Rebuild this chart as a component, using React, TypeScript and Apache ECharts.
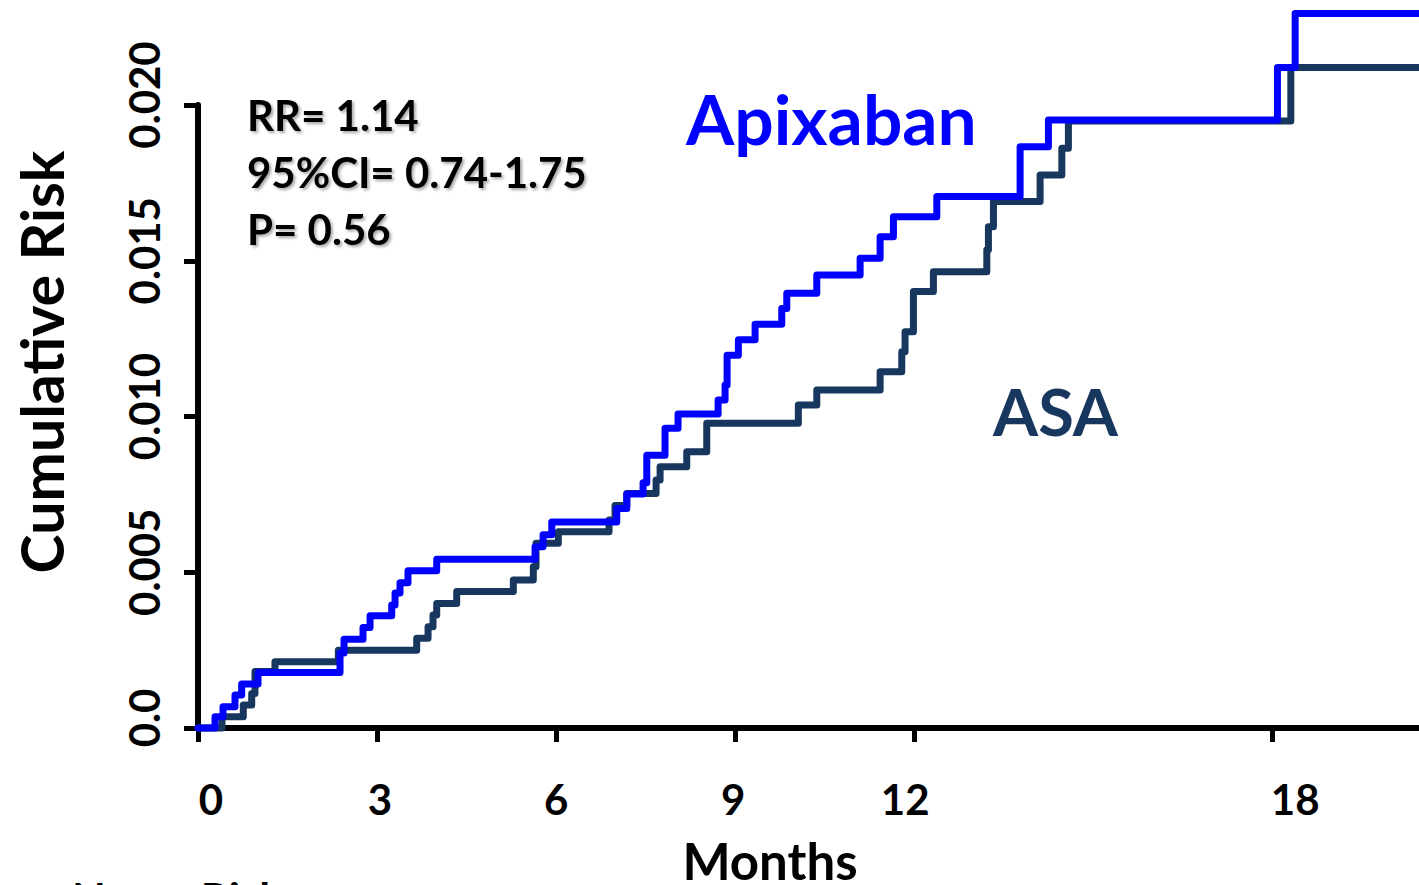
import React, { useEffect, useRef } from "react";
import * as echarts from "echarts";

// Tick values shown on the axes
const xTickValues = [0, 3, 6, 9, 12, 18];
const xMax = 20.46;
const yMax = 0.02;
const yInterval = 0.005;

// Kaplan-Meier style step data: months at which the cumulative risk jumps, and the new risk
const apixabanMonths = [
  0, 0.285, 0.419, 0.62, 0.732, 1.006, 2.38, 2.447, 2.765, 2.883, 3.246, 3.302, 3.385, 3.519, 4.0,
  5.648, 5.782, 5.928, 7.017, 7.185, 7.458, 7.52, 7.826, 8.044, 8.715, 8.832, 8.866, 9.055, 9.335,
  9.782, 9.866, 10.369, 11.095, 11.43, 11.653, 12.38, 13.776, 14.25, 18.088, 18.385, 20.46,
];
const apixabanRisk = [
  0, 0.00036, 0.00068, 0.00106, 0.00141, 0.00178, 0.00241, 0.00285, 0.00323, 0.0036, 0.00395,
  0.00433, 0.00466, 0.00505, 0.00542, 0.00582, 0.0062, 0.00661, 0.00705, 0.00751, 0.00787, 0.00876,
  0.00962, 0.01008, 0.01053, 0.01101, 0.01197, 0.01246, 0.01296, 0.01347, 0.01396, 0.01454, 0.01508,
  0.01577, 0.01641, 0.01706, 0.01866, 0.01952, 0.0212, 0.02294, 0.02294,
];

const asaMonths = [
  0, 0.402, 0.759, 0.9, 0.955, 1.29, 2.351, 3.665, 3.855, 3.938, 4.0, 4.335, 5.284, 5.619, 5.664,
  6.038, 6.888, 6.988, 7.185, 7.676, 7.743, 8.19, 8.525, 10.06, 10.369, 11.43, 11.793, 11.848, 11.988,
  12.323, 13.218, 13.245, 13.329, 14.111, 14.475, 14.585, 18.312, 20.46,
];
const asaRisk = [
  0, 0.00036, 0.00074, 0.00111, 0.00181, 0.00213, 0.0025, 0.00288, 0.00325, 0.00363, 0.004, 0.00438,
  0.00475, 0.00518, 0.00593, 0.0063, 0.00668, 0.00714, 0.00753, 0.00796, 0.00839, 0.00887, 0.00978,
  0.01037, 0.01085, 0.01144, 0.01208, 0.01272, 0.01401, 0.01465, 0.01535, 0.01609, 0.0169, 0.01775,
  0.01861, 0.01949, 0.0212, 0.0212,
];

const statsLines = ["RR= 1.14", "95%CI= 0.74-1.75", "P= 0.56"];

const BLUE = "#0000FF";
const NAVY = "#17375E";
const FONT = "Lato, 'Open Sans', sans-serif";

// small horizontal nudges of the x tick labels (style only), as in the original slide
const xLabelNudge: Record<number, number> = { 0: 13, 3: 3, 6: 0, 9: -2, 12: -9, 18: 23 };

export default function App() {
  const ref = useRef<HTMLDivElement>(null);

  useEffect(() => {
    document.body.style.margin = "0";
    const chart = echarts.init(ref.current!, null, { renderer: "svg" });

    const lineBase = {
      type: "line",
      step: "end",
      showSymbol: false,
      symbol: "none",
      clip: false,
      silent: true,
    };

    const xRich: Record<string, any> = {};
    xTickValues.forEach((v) => {
      const s = xLabelNudge[v] || 0;
      xRich["t" + v] = {
        color: "#000",
        fontWeight: "bold",
        fontSize: 42,
        fontFamily: FONT,
        padding: s >= 0 ? [0, 0, 0, 2 * s] : [0, -2 * s, 0, 0],
      };
    });

    chart.setOption({
      animation: false,
      backgroundColor: "#ffffff",
      grid: {
        left: 198,
        top: 105,
        right: 0,
        bottom: 157,
        containLabel: false,
        outerBoundsMode: "none",
      },
      xAxis: {
        type: "value",
        min: 0,
        max: xMax,
        interval: 3,
        splitLine: { show: false },
        axisLine: { show: true, onZero: false, lineStyle: { color: "#000", width: 6 } },
        axisTick: {
          show: true,
          length: 14,
          customValues: xTickValues,
          lineStyle: { color: "#000", width: 5 },
        },
        axisLabel: {
          customValues: xTickValues,
          color: "#000",
          fontWeight: "bold",
          fontSize: 42,
          fontFamily: FONT,
          margin: 50,
          formatter: (v: number) => `{t${v}|${v}}`,
          rich: xRich,
        },
      },
      yAxis: {
        type: "value",
        min: 0,
        max: yMax,
        interval: yInterval,
        splitLine: { show: false },
        axisLine: { show: true, onZero: false, lineStyle: { color: "#000", width: 6 } },
        axisTick: { show: true, length: 14, lineStyle: { color: "#000", width: 5 } },
        axisLabel: {
          rotate: 90,
          color: "#000",
          fontWeight: "bold",
          fontSize: 42,
          fontFamily: FONT,
          margin: 33,
          padding: [0, 0, 0, 20],
          formatter: (v: number) => (v === 0 ? "0.0" : v.toFixed(3)),
        },
      },
      series: [
        {
          ...lineBase,
          name: "ASA",
          data: asaMonths.map((m, i) => [m, asaRisk[i]]),
          lineStyle: { color: NAVY, width: 7, cap: "round", join: "round" },
          z: 2,
        },
        {
          ...lineBase,
          name: "Apixaban",
          data: apixabanMonths.map((m, i) => [m, apixabanRisk[i]]),
          lineStyle: { color: BLUE, width: 7, cap: "round", join: "round" },
          z: 3,
        },
      ],
      graphic: [
        {
          type: "text",
          x: 41,
          y: 362,
          rotation: Math.PI / 2,
          style: {
            text: "Cumulative Risk",
            fontSize: 59,
            fontWeight: "bold",
            fontFamily: FONT,
            fill: "#000",
            align: "center",
            verticalAlign: "middle",
          },
        },
        {
          type: "text",
          x: 770,
          y: 860,
          style: {
            text: "Months",
            fontSize: 51,
            fontWeight: "bold",
            fontFamily: FONT,
            fill: "#000",
            align: "center",
            verticalAlign: "middle",
          },
        },
        ...statsLines.map((t, i) => ({
          type: "text",
          x: 247,
          y: 115 + i * 57,
          style: {
            text: t,
            fontSize: 42,
            fontWeight: "bold",
            fontFamily: FONT,
            fill: "#000",
            align: "left",
            verticalAlign: "middle",
            textShadowColor: "rgba(0,0,0,0.35)",
            textShadowBlur: 3,
            textShadowOffsetX: 2,
            textShadowOffsetY: 2,
          },
        })),
        {
          type: "text",
          x: 686,
          y: 118,
          style: {
            text: "Apixaban",
            fontSize: 69.5,
            fontWeight: "bold",
            fontFamily: FONT,
            fill: BLUE,
            align: "left",
            verticalAlign: "middle",
          },
        },
        {
          type: "text",
          x: 993,
          y: 411,
          style: {
            text: "ASA",
            fontSize: 65,
            fontWeight: "bold",
            fontFamily: FONT,
            fill: NAVY,
            align: "left",
            verticalAlign: "middle",
          },
        },
        {
          type: "text",
          x: 72,
          y: 876,
          style: {
            text: "No. at Risk",
            fontSize: 44,
            fontWeight: "bold",
            fontFamily: FONT,
            fill: "#000",
            align: "left",
            verticalAlign: "top",
          },
        },
      ],
    });

    return () => chart.dispose();
  }, []);

  return <div ref={ref} style={{ width: 1419, height: 885, overflow: "hidden" }} />;
}
